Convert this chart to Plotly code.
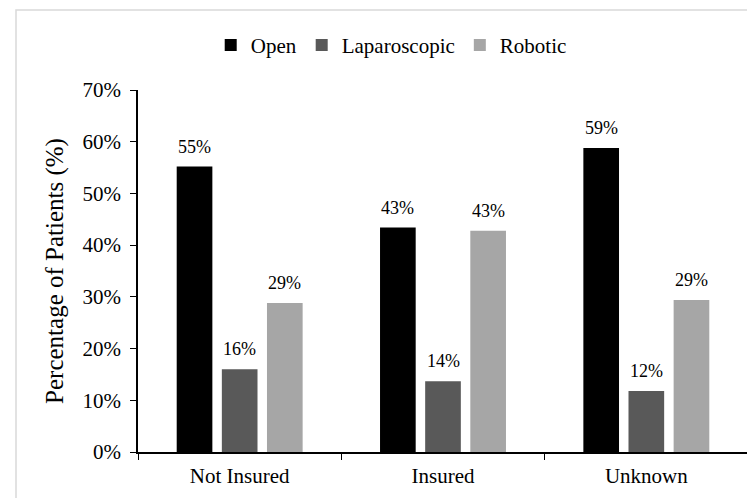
import plotly.graph_objects as go

categories = ["Not Insured", "Insured", "Unknown"]
open_vals = [0.552, 0.434, 0.588]
lap_vals = [0.160, 0.137, 0.118]
rob_vals = [0.288, 0.428, 0.294]
series_names = ["Open", "Laparoscopic", "Robotic"]
colors = ["#000000", "#595959", "#A6A6A6"]
y_ticks = [0, 0.1, 0.2, 0.3, 0.4, 0.5, 0.6, 0.7]

FONT = "Liberation Serif"

# layout geometry (pixels)
W, H = 747, 490
ML, MR, MT, MB = 130, 7, 82, 46
BARGAP, GROUPGAP = 0.334, 0.21
cat_px = (W - ML - MR) / len(categories)
slot_px = cat_px * (1 - BARGAP) / 3

fig = go.Figure()
annotations = []
for i, (name, vals, col) in enumerate(zip(series_names, [open_vals, lap_vals, rob_vals], colors)):
    fig.add_trace(go.Bar(
        x=categories, y=vals, name=name,
        marker=dict(color=col, line=dict(width=0)),
    ))
    for c, v in zip(categories, vals):
        annotations.append(dict(
            x=c, y=v, xref="x", yref="y",
            text=f"{v*100:.0f}%", showarrow=False,
            xshift=(i - 1) * slot_px, yshift=20,
            yanchor="middle", xanchor="center",
            font=dict(family=FONT, size=18, color="#000000"),
        ))

fig.update_layout(
    width=W, height=H,
    margin=dict(l=ML, r=MR, t=MT, b=MB),
    paper_bgcolor="white", plot_bgcolor="white",
    barmode="group", bargap=BARGAP, bargroupgap=GROUPGAP,
    font=dict(family=FONT, color="#000000"),
    showlegend=True,
    legend=dict(
        orientation="h", xref="container", yref="container",
        x=0.513, xanchor="center", y=0.924, yanchor="middle",
        font=dict(family=FONT, size=21, color="#000000"),
        itemwidth=30, tracegroupgap=0, bgcolor="rgba(0,0,0,0)",
    ),
    xaxis=dict(
        showline=True, linecolor="#000000", linewidth=1.5,
        ticks="outside", tickson="boundaries", ticklen=6, tickcolor="#000000",
        tickfont=dict(family=FONT, size=21, color="#000000"),
        ticklabelstandoff=4,
        showgrid=False, zeroline=False,
    ),
    yaxis=dict(
        range=[0, 0.7], tickvals=y_ticks, tickformat=".0%",
        showline=True, linecolor="#000000", linewidth=1.5,
        ticks="outside", ticklen=6, tickcolor="#000000",
        tickfont=dict(family=FONT, size=21, color="#000000"),
        ticklabelstandoff=5,
        showgrid=False, zeroline=False,
        title=dict(text="Percentage of Patients (%)", standoff=12,
                   font=dict(family=FONT, size=25, color="#000000")),
    ),
    annotations=annotations,
    shapes=[dict(
        type="rect", xref="paper", yref="paper",
        x0=-0.2, x1=1.1, y0=-0.3, y1=1.221,
        line=dict(color="#D9D9D9", width=1.5), fillcolor="rgba(0,0,0,0)",
        layer="below",
    )],
)

fig.write_html("out.html")
